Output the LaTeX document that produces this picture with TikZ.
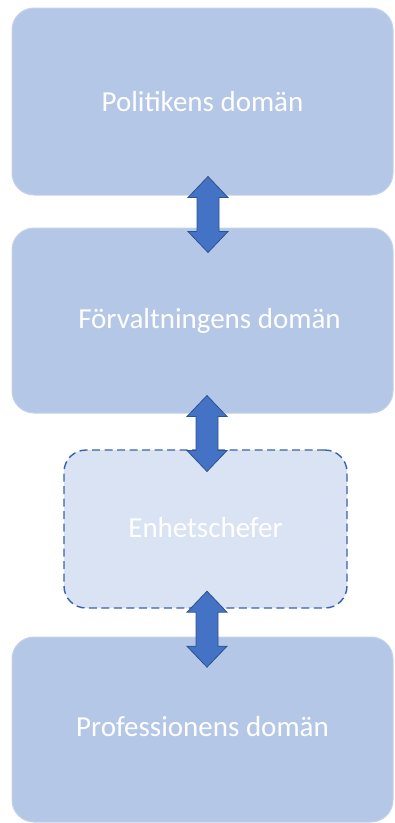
\documentclass[tikz,border=0pt]{standalone}
\usepackage{fontspec}
\setmainfont{Carlito}
\definecolor{boxfill}{HTML}{B4C7E7}
\definecolor{boxedge}{HTML}{C3D2EC}
\definecolor{unitfill}{HTML}{DAE3F3}
\definecolor{unitedge}{HTML}{3A62A8}
\definecolor{arrowfill}{HTML}{4472C4}
\definecolor{arrowedge}{HTML}{2F528F}
\tikzset{
  levelbox/.style={draw=boxedge, line width=1pt, fill=boxfill, rounded corners=22pt,
    minimum width=381pt, inner sep=0pt, text=white, font=\fontsize{29}{34}\selectfont},
  unitbox/.style={draw=unitedge, line width=1.4pt, dash pattern=on 8pt off 4.5pt,
    fill=unitfill, rounded corners=22pt, minimum width=283pt, minimum height=158pt,
    inner sep=0pt, text=white, font=\fontsize{29}{34}\selectfont},
  % block double arrow: 76 long, 40 wide at the heads, 22 wide shaft
  pics/twoway/.style={code={
    \draw[draw=arrowedge, line width=0.8pt, fill=arrowfill, line join=miter]
      (0,-38) -- (20,-17) -- (11,-17) -- (11,17) -- (20,17) -- (0,38)
      -- (-20,17) -- (-11,17) -- (-11,-17) -- (-20,-17) -- cycle;
  }}
}
\begin{document}
\begin{tikzpicture}[x=1pt,y=-1pt]
  \useasboundingbox (0,0) rectangle (395,823);
  % the four levels
  \node[levelbox, minimum height=187pt] (pol) at (202.5,101.5) {Politikens domän};
  \node[levelbox, minimum height=185pt] (forv) at (202.5,320.5) {\raisebox{2pt}{\hspace{14pt}Förvaltningens domän}};
  \node[unitbox] (enh) at (205.5,529) {\raisebox{4pt}{Enhetschefer}};
  \node[levelbox, minimum height=185pt] (prof) at (202.5,729.5) {\raisebox{7pt}{Professionens domän}};
  % two-way links between the levels
  \coordinate (l1) at ([shift={(5.5,19)}]pol.south);
  \coordinate (l2) at ([shift={(4.5,20)}]forv.south);
  \coordinate (l3) at ([shift={(1.5,20.5)}]enh.south);
  \pic at (l1) {twoway};
  \pic at (l2) {twoway};
  \pic at (l3) {twoway};
\end{tikzpicture}
\end{document}
